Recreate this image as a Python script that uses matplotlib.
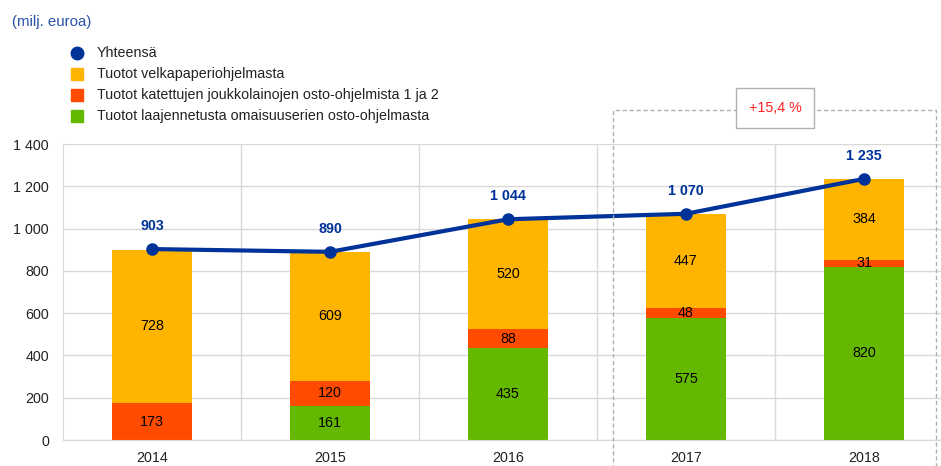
import matplotlib
matplotlib.use('Agg')
import matplotlib.pyplot as plt
import numpy as np
from matplotlib.patches import Rectangle

plt.rcParams['font.family'] = ['Liberation Sans', 'DejaVu Sans']

vuodet = ['2014', '2015', '2016', '2017', '2018']
laajennettu = [0, 161, 435, 575, 820]
katetut = [173, 120, 88, 48, 31]
velkapaperi = [728, 609, 520, 447, 384]
yhteensa = [903, 890, 1044, 1070, 1235]

c_line = '#003399'
c_velka = '#FFB400'
c_kat = '#FF4B00'
c_laaj = '#65B800'
fs = 10.3

W, H = 941, 466
fig = plt.figure(figsize=(W/100, H/100), dpi=100)
# akselit px: vasen 63, oikea 953 (kuva rajautuu), y0=440, y1400=144
ax = fig.add_axes([63/W, (H-440)/H, 890/W, 296/H])

x = np.arange(len(vuodet))
w = 0.45
ax.bar(x, laajennettu, w, color=c_laaj, zorder=2)
ax.bar(x, katetut, w, bottom=laajennettu, color=c_kat, zorder=2)
ala = np.array(laajennettu) + np.array(katetut)
ax.bar(x, velkapaperi, w, bottom=ala, color=c_velka, zorder=2)
ax.plot(x, yhteensa, color=c_line, lw=3, marker='o', ms=8, zorder=3)

for i in range(len(x)):
    if laajennettu[i] > 0:
        ax.text(x[i], laajennettu[i]/2, str(laajennettu[i]), ha='center', va='center', fontsize=fs)
    ax.text(x[i], laajennettu[i] + katetut[i]/2, str(katetut[i]), ha='center', va='center', fontsize=fs)
    ax.text(x[i], ala[i] + velkapaperi[i]/2, str(velkapaperi[i]), ha='center', va='center', fontsize=fs)
    t = f'{yhteensa[i]:,}'.replace(',', ' ')
    ax.text(x[i], yhteensa[i] + 75, t, ha='center', va='bottom', fontsize=fs,
            color=c_line, fontweight='bold')

ax.set_xlim(-0.5, 4.5)
ax.set_ylim(0, 1400)
ax.set_yticks(range(0, 1401, 200))
ax.set_yticklabels([f'{v:,}'.replace(',', ' ') for v in range(0, 1401, 200)])
ax.set_xticks(x)
ax.set_xticklabels(vuodet)
ax.set_xticks(np.arange(0.5, 4.5, 1), minor=True)
ax.grid(axis='y', color='#d9d9d9', lw=1, zorder=0)
ax.grid(axis='x', which='minor', color='#d9d9d9', lw=1, zorder=0)
ax.tick_params(axis='both', which='both', length=0, labelsize=fs, colors='#222222', pad=8)
ax.tick_params(axis='y', pad=10)
for s in ['top', 'right']:
    ax.spines[s].set_visible(False)
for s in ['left', 'bottom']:
    ax.spines[s].set_color('#d9d9d9')

# katkoviivalaatikko
fig.patches.append(Rectangle((613/W, -0.05), (936-613)/W, 0.05 + (H-110)/H, transform=fig.transFigure,
                             fill=False, ec='#b0b0b0', ls=(0, (3, 2)), lw=1, zorder=5))
fig.text(775/W, (H-108)/H, '+15,4 %', ha='center', va='center', color='#FF2020', fontsize=fs,
         bbox=dict(boxstyle='square,pad=0.9', fc='white', ec='#b0b0b0', lw=1), zorder=6)

fig.text(12/W, (H-22)/H, '(milj. euroa)', ha='left', va='center', color='#2850a8', fontsize=10.8)

# selite
leg = [('o', c_line, 'Yhteensä'), ('s', c_velka, 'Tuotot velkapaperiohjelmasta'),
       ('s', c_kat, 'Tuotot katettujen joukkolainojen osto-ohjelmista 1 ja 2'),
       ('s', c_laaj, 'Tuotot laajennetusta omaisuuserien osto-ohjelmasta')]
for j, (m, c, lab) in enumerate(leg):
    yy = (H - (53 + 21*j))/H
    fig.lines.append(plt.Line2D([77/W], [yy], marker=m, color=c, ms=9,
                                ls='none', transform=fig.transFigure))
    fig.text(97/W, yy, lab, ha='left', va='center', fontsize=fs, color='#222222')

fig.savefig('out.png', dpi=100)
